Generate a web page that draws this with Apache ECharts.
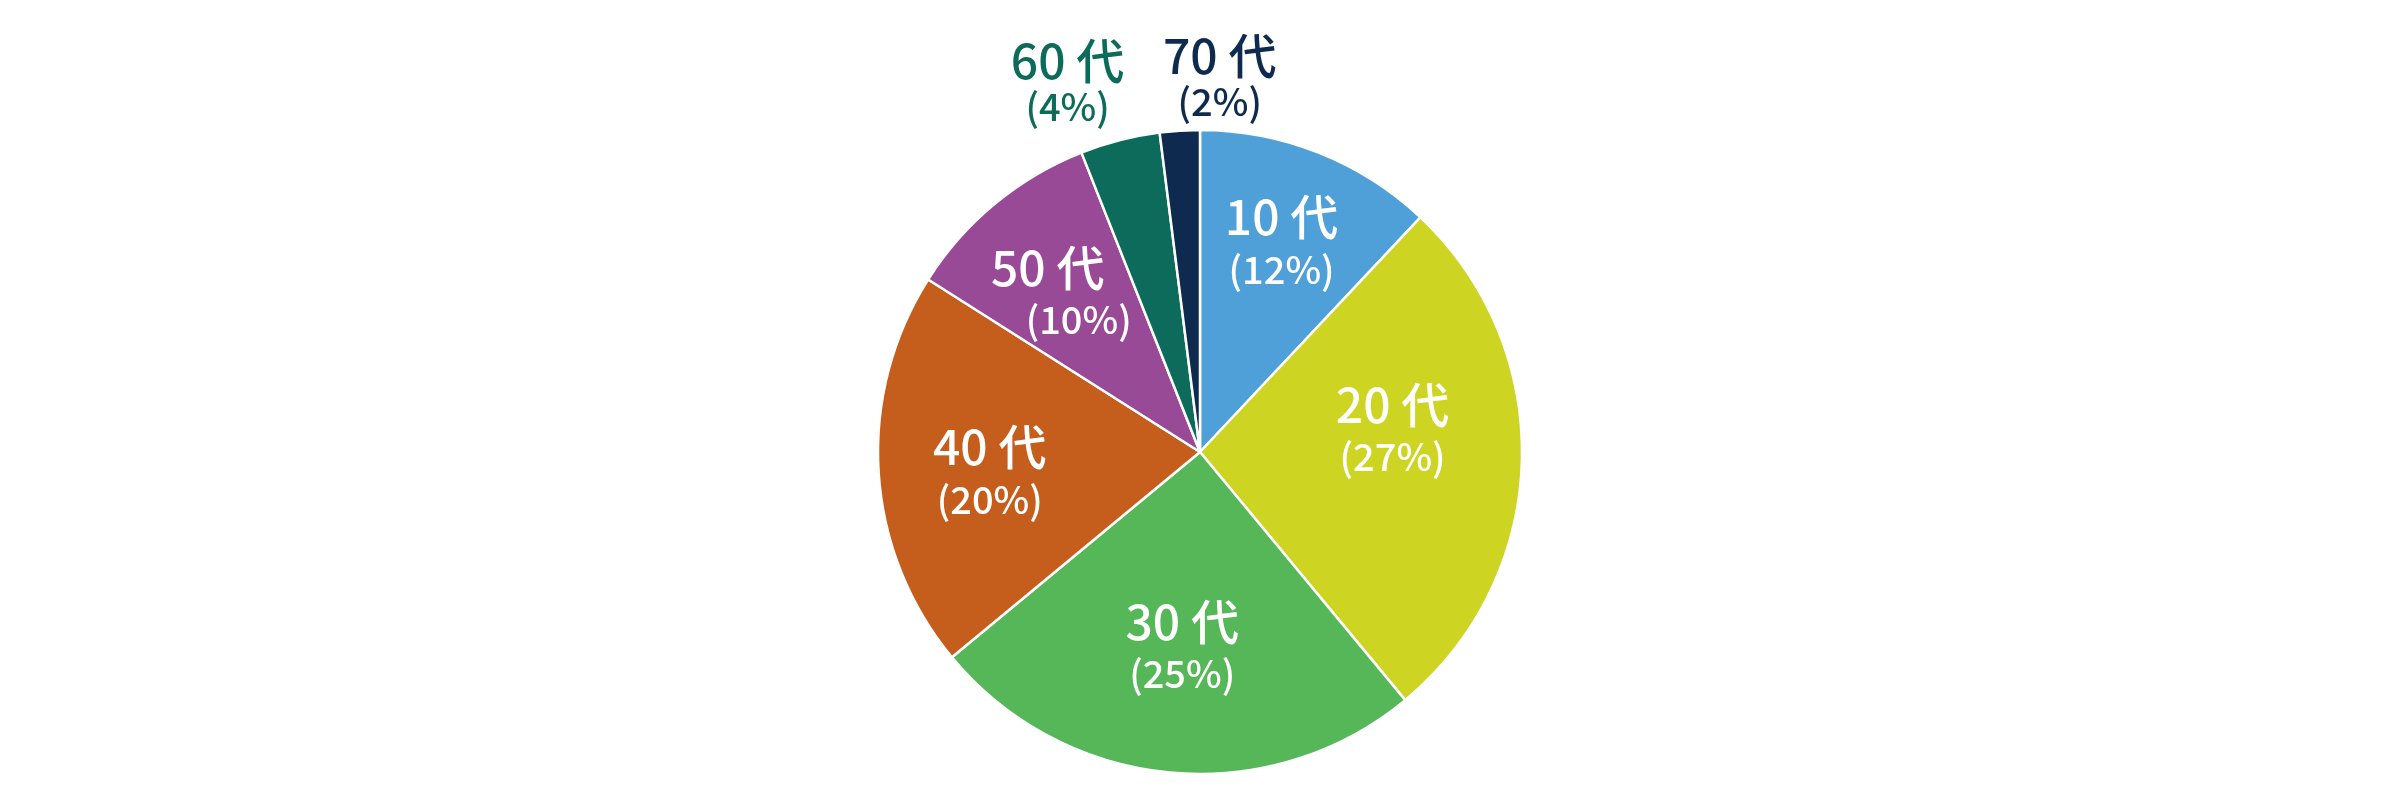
<!DOCTYPE html>
<html>
<head>
<meta charset="utf-8">
<script src="https://cdn.jsdelivr.net/npm/echarts@6/dist/echarts.min.js"></script>
<style>
html,body{margin:0;padding:0;background:#fff;}
#chart{width:2400px;height:800px;}
</style>
</head>
<body>
<div id="chart"></div>
<script>
const categories = ['10 代', '20 代', '30 代', '40 代', '50 代', '60 代', '70 代'];
const values = [12, 27, 25, 20, 10, 4, 2];

const colors = ['#4FA0D8', '#CDD422', '#55B757', '#C55E1C', '#984A97', '#0D6B5B', '#0E2A4E'];
const labelColors = ['#fff', '#fff', '#fff', '#fff', '#fff', '#0D6B5B', '#0E2A4E'];
const labelOffsets = [[4, -15], [-18, -30], [2, -16], [0, 6], [-18, 2], [-80, -166], [33, -165]];
const innerLabel = [true, true, true, true, true, false, false];

const R = 322;
const center = ['50%', 452];

const pieData = categories.map((c, i) => ({ name: c, value: values[i], itemStyle: { color: colors[i] } }));

const labelData = categories.map((c, i) => {
  const second = (i === 4) ? 'c' : (innerLabel[i] ? 'b' : 'd');
  const first = innerLabel[i] ? 'a' : 'e';
  return {
    name: c,
    value: values[i],
    itemStyle: { color: 'rgba(0,0,0,0)' },
    label: {
      color: labelColors[i],
      offset: labelOffsets[i],
      formatter: p => '{' + first + '|' + p.name + '}\n{' + second + '|(' + p.value + '%)}'
    }
  };
});

const font = '"Noto Sans CJK JP", "Noto Sans", sans-serif';
const fw = 500;
const chart = echarts.init(document.getElementById('chart'), null, { renderer: 'canvas' });
chart.setOption({
  backgroundColor: '#ffffff',
  animation: false,
  series: [
    {
      type: 'pie',
      center: center,
      radius: [0, R],
      startAngle: 90,
      clockwise: true,
      avoidLabelOverlap: false,
      silent: true,
      label: { show: false },
      labelLine: { show: false },
      itemStyle: { borderColor: '#ffffff', borderWidth: 2.5 },
      data: pieData
    },
    {
      type: 'pie',
      center: center,
      radius: [0, R * 1.29],
      startAngle: 90,
      clockwise: true,
      avoidLabelOverlap: false,
      silent: true,
      z: 5,
      itemStyle: { borderWidth: 0 },
      labelLine: { show: false },
      label: {
        show: true,
        position: 'inside',
        fontFamily: font,
        align: 'center',
        rich: {
          a: { fontFamily: font, fontWeight: fw, fontSize: 48, lineHeight: 56, align: 'center' },
          b: { fontFamily: font, fontWeight: fw, fontSize: 38, lineHeight: 48, align: 'center' },
          c: { fontFamily: font, fontWeight: fw, fontSize: 38, lineHeight: 48, align: 'center', padding: [0, 0, 0, 62] },
          e: { fontFamily: font, fontWeight: fw, fontSize: 48, lineHeight: 50, align: 'center' },
          d: { fontFamily: font, fontWeight: fw, fontSize: 38, lineHeight: 42, align: 'center' }
        }
      },
      data: labelData
    }
  ]
});
</script>
</body>
</html>
